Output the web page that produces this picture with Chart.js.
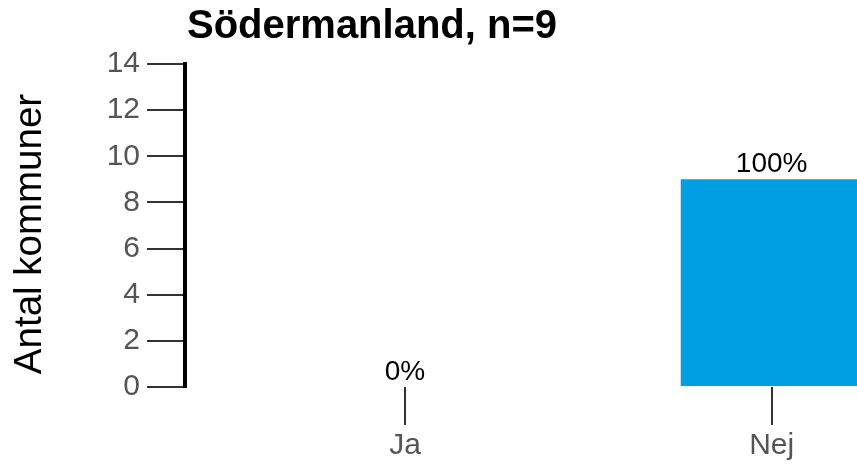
<!DOCTYPE html>
<html>
<head>
<meta charset="utf-8">
<script src="https://cdn.jsdelivr.net/npm/chart.js@4/dist/chart.umd.min.js"></script>
<style>
html,body{margin:0;padding:0;background:#fff;}
#wrap{width:857px;height:464px;position:relative;}
</style>
</head>
<body>
<div id="wrap"><canvas id="c" width="857" height="464"></canvas></div>
<script>
const chartTitle = "Södermanland, n=9";
const yAxisTitle = "Antal kommuner";
const categories = ["Ja", "Nej"];
const values = [0, 9];
const yTicks = [0, 2, 4, 6, 8, 10, 12, 14];

const total = values.reduce((a, b) => a + b, 0);
const FONT = "'Liberation Sans', Arial, sans-serif";

const titlePlugin = {
  id: 'customTitle',
  afterDraw(chart) {
    const ctx = chart.ctx;
    ctx.save();
    ctx.font = "bold 40px " + FONT;
    ctx.fillStyle = "#000";
    ctx.textAlign = "center";
    ctx.textBaseline = "alphabetic";
    ctx.fillText(chartTitle, 372, 38);
    // y axis title
    ctx.translate(30, 234);
    ctx.rotate(-Math.PI / 2);
    ctx.font = "38.5px " + FONT;
    ctx.textBaseline = "middle";
    ctx.fillText(yAxisTitle, 0, 0);
    ctx.restore();
  }
};

const valueLabels = {
  id: 'valueLabels',
  afterDatasetsDraw(chart) {
    const ctx = chart.ctx;
    const meta = chart.getDatasetMeta(0);
    ctx.save();
    ctx.font = "28px " + FONT;
    ctx.fillStyle = "#000";
    ctx.textAlign = "center";
    ctx.textBaseline = "alphabetic";
    meta.data.forEach((bar, i) => {
      const pct = total ? Math.round(values[i] / total * 100) : 0;
      ctx.fillText(pct + "%", bar.x, bar.y - 7);
    });
    ctx.restore();
  }
};

new Chart(document.getElementById('c'), {
  type: 'bar',
  data: {
    datasets: [{
      data: categories.map((c, i) => ({ x: i, y: values[i] })),
      backgroundColor: '#009FE3',
      borderWidth: 0,
      barPercentage: 0.496,
      categoryPercentage: 1
    }]
  },
  options: {
    responsive: false,
    animation: false,
    layout: { padding: { top: 64, right: 0, bottom: 0, left: 0 } },
    plugins: {
      legend: { display: false },
      title: { display: false },
      tooltip: { enabled: false }
    },
    scales: {
      x: {
        type: 'linear',
        offset: false,
        min: -0.6,
        max: 1.2327,
        afterBuildTicks(scale) {
          scale.ticks = categories.map((c, i) => ({ value: i }));
        },
        afterFit(scale) { scale.height = 77; },
        ticks: {
          autoSkip: false,
          maxRotation: 0,
          padding: 3,
          color: '#555',
          font: { family: FONT, size: 30 },
          callback: (v) => categories[v]
        },
        grid: {
          offset: false,
          drawOnChartArea: false,
          tickLength: 38,
          color: '#333',
          lineWidth: 2
        },
        border: { display: false }
      },
      y: {
        min: 0,
        max: 14,
        afterBuildTicks(scale) {
          scale.ticks = yTicks.map(v => ({ value: v }));
        },
        afterFit(scale) { scale.width = 185; },
        ticks: {
          padding: 7,
          color: '#555',
          font: { family: FONT, size: 30 }
        },
        grid: {
          drawOnChartArea: false,
          tickLength: 38,
          color: '#333',
          lineWidth: 2
        },
        border: { display: true, color: '#000', width: 4 },
        title: { display: false }
      }
    }
  },
  plugins: [titlePlugin, valueLabels]
});
</script>
</body>
</html>
